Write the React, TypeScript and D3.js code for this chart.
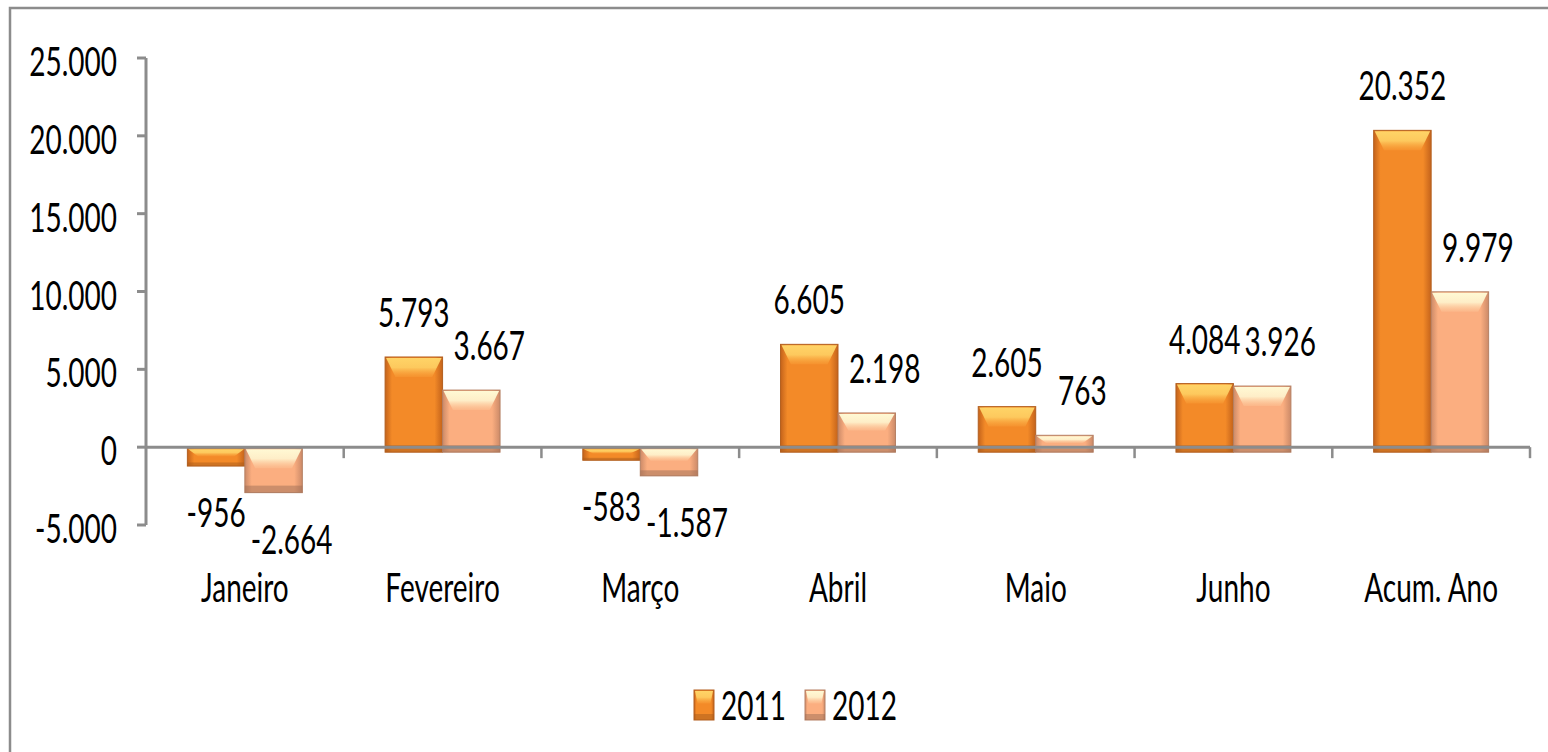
import React from "react";
import * as d3 from "d3";

const categories = ["Janeiro", "Fevereiro", "Março", "Abril", "Maio", "Junho", "Acum. Ano"];
const series = ["2011", "2012"];
const values2011 = [-956, 5793, -583, 6605, 2605, 4084, 20352];
const values2012 = [-2664, 3667, -1587, 2198, 763, 3926, 9979];
const yTicks = [-5000, 0, 5000, 10000, 15000, 20000, 25000];

const W = 1548;
const H = 752;
const FONT = "Lato, 'Open Sans', sans-serif";
const SX = 0.7; // labels in the picture are horizontally squeezed

const palette: Record<string, { c: string; e: string; t1: string; t2: string; b: string; s: string }> = {
  "2011": { c: "#F38A28", e: "#C4631B", t1: "#FFD467", t2: "#FBA63E", b: "#A95B1C", s: "#B35F1F" },
  "2012": { c: "#FBAE80", e: "#CC8A68", t1: "#FFF9D4", t2: "#FDCB9E", b: "#9E6E55", s: "#B58064" },
};

const fmt = d3.formatLocale({
  decimal: ",",
  thousands: ".",
  grouping: [3],
  currency: ["", ""],
  minus: "-",
}).format(",d");

const Label = ({ x, y, text, anchor = "middle" }: any) => (
  <text
    transform={`translate(${x},${y}) scale(${SX},1)`}
    textAnchor={anchor}
    fontFamily={FONT}
    fontSize={40}
    fill="#000"
  >
    {text}
  </text>
);

const Bar = ({ x, w, y0, y1, k }: any) => {
  const p = palette[k];
  const h = y1 - y0;
  const bh = Math.min(20, h * 0.45);
  const inset = Math.min(11, w * 0.18);
  const db = Math.min(7, h * 0.2);
  return (
    <g>
      <rect x={x} y={y0} width={w} height={h} fill={`url(#side${k})`} stroke={p.s} strokeWidth={1} />
      <polygon
        points={`${x + 1},${y0 + 1} ${x + w - 1},${y0 + 1} ${x + w - inset},${y0 + bh} ${x + inset},${y0 + bh}`}
        fill={`url(#top${k})`}
      />
      <rect x={x} y={y1 - db} width={w} height={db} fill={p.b} opacity={0.5} />
    </g>
  );
};

export default function App() {
  const left = 146;
  const x0 = d3.scaleBand<string>().domain(categories).range([left, 1530]).padding(0);
  const x1 = d3.scaleBand<string>().domain(series).range([0, x0.bandwidth()]).paddingInner(0).paddingOuter(0.72);
  const y = d3.scaleLinear().domain([-5000, 25000]).range([525, 58]);
  const zero = y(0);

  const rows = categories.map((c, i) => ({ c, v: { "2011": values2011[i], "2012": values2012[i] } as Record<string, number> }));

  return (
    <svg width={W} height={H} style={{ position: "absolute", left: 0, top: 0, background: "#fff" }}>
      <defs>
        {series.map((k) => {
          const p = palette[k];
          return (
            <React.Fragment key={k}>
              <linearGradient id={`side${k}`} x1="0" x2="1" y1="0" y2="0">
                <stop offset="0" stopColor={p.e} />
                <stop offset="0.12" stopColor={p.c} />
                <stop offset="0.5" stopColor={p.c} />
                <stop offset="0.86" stopColor={p.c} />
                <stop offset="1" stopColor={p.e} />
              </linearGradient>
              <linearGradient id={`top${k}`} x1="0" x2="0" y1="0" y2="1">
                <stop offset="0" stopColor={p.t1} />
                <stop offset="0.5" stopColor={p.t1} stopOpacity={0.85} />
                <stop offset="1" stopColor={p.t2} stopOpacity={0.3} />
              </linearGradient>
            </React.Fragment>
          );
        })}
      </defs>

      <rect x={10} y={8} width={W} height={H} fill="none" stroke="#8c8c8c" strokeWidth={2.5} />

      {/* bars */}
      {rows.map((r) =>
        series.map((k) => {
          const v = r.v[k];
          const bx = (x0(r.c) as number) + (x1(k) as number);
          const w = x1.bandwidth();
          const y0 = v >= 0 ? y(v) : zero + 1;
          const y1 = v >= 0 ? zero + 5 : y(v) + 4;
          return <Bar key={r.c + k} x={bx} w={w} y0={y0} y1={y1} k={k} />;
        })
      )}

      {/* y axis */}
      <line x1={left} x2={left} y1={y(25000)} y2={y(-5000)} stroke="#8c8c8c" strokeWidth={3} />
      {yTicks.map((t) => (
        <g key={t}>
          <line x1={137} x2={left} y1={y(t)} y2={y(t)} stroke="#8c8c8c" strokeWidth={3} />
          <Label x={117} y={y(t) + 18} text={fmt(t)} anchor="end" />
        </g>
      ))}

      {/* x axis */}
      <line x1={left} x2={1530} y1={zero} y2={zero} stroke="#8c8c8c" strokeWidth={3} />
      {categories.map((c) => (
        <line key={c} x1={(x0(c) as number) + x0.bandwidth()} x2={(x0(c) as number) + x0.bandwidth()} y1={zero} y2={zero + 11} stroke="#8c8c8c" strokeWidth={2.5} />
      ))}
      {categories.map((c) => (
        <Label key={c} x={(x0(c) as number) + x0.bandwidth() / 2} y={602} text={c} />
      ))}

      {/* data labels */}
      {rows.map((r) =>
        series.map((k) => {
          const v = r.v[k];
          const cx = (x0(r.c) as number) + (x1(k) as number) + x1.bandwidth() / 2 + (k === "2012" ? 18 : 0);
          const ly = v >= 0 ? y(v) - 30 : y(v) + 65;
          return <Label key={"l" + r.c + k} x={cx} y={ly} text={fmt(v)} />;
        })
      )}

      {/* legend */}
      {series.map((k, i) => {
        const lx = 694 + i * 111;
        return (
          <g key={"lg" + k}>
            <Bar x={lx} w={20} y0={690} y1={720} k={k} />
            <Label x={lx + 27} y={720} text={k} anchor="start" />
          </g>
        );
      })}
    </svg>
  );
}
